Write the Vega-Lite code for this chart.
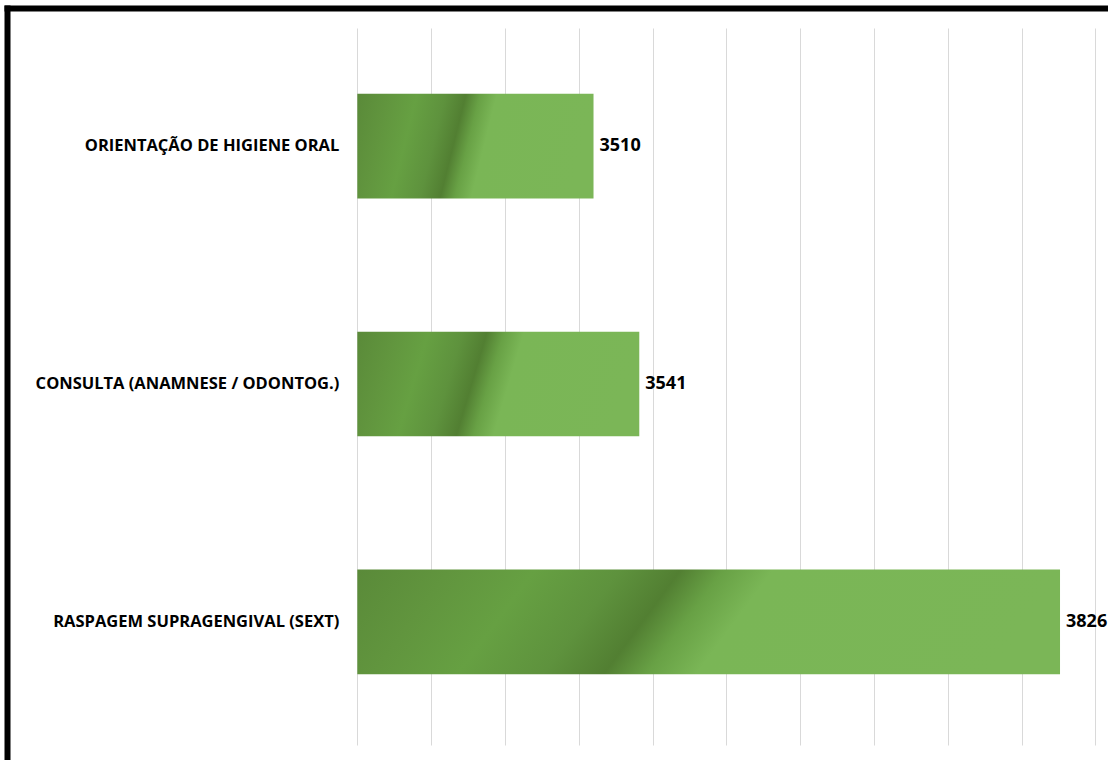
{
  "$schema": "https://vega.github.io/schema/vega-lite/v6.json",
  "width": 1108,
  "height": 760,
  "autosize": {"type": "fit", "contains": "padding"},
  "padding": {"left": 7, "top": 7, "right": 0, "bottom": 0},
  "background": "white",
  "config": {"view": {"stroke": null}, "font": "Open Sans"},
  "data": {
    "values": [
      {"category": "ORIENTAÇÃO DE HIGIENE ORAL", "value": 3510},
      {"category": "CONSULTA (ANAMNESE / ODONTOG.)", "value": 3541},
      {"category": "RASPAGEM SUPRAGENGIVAL (SEXT)", "value": 3826}
    ]
  },
  "encoding": {
    "y": {
      "field": "category",
      "type": "nominal",
      "sort": null,
      "scale": {"paddingInner": 0.56, "paddingOuter": 0.36},
      "axis": {
        "title": null,
        "labels": false,
        "ticks": false,
        "grid": false,
        "domain": true,
        "domainColor": "#000000",
        "domainWidth": 6,
        "domainCap": "square"
      }
    }
  },
  "layer": [
    {
      "mark": {
        "type": "bar",
        "fill": {
          "gradient": "linear",
          "x1": 0, "y1": 0, "x2": 1, "y2": 0.11,
          "stops": [
            {"offset": 0, "color": "#5a8a39"},
            {"offset": 0.13, "color": "#61953e"},
            {"offset": 0.25, "color": "#66a042"},
            {"offset": 0.37, "color": "#5e923d"},
            {"offset": 0.455, "color": "#527f32"},
            {"offset": 0.515, "color": "#68a145"},
            {"offset": 0.585, "color": "#7ab656"},
            {"offset": 1, "color": "#7bb657"}
          ]
        }
      },
      "encoding": {
        "x": {
          "field": "value",
          "type": "quantitative",
          "scale": {"domain": [3112.7, 3858.5], "nice": false, "zero": false},
          "axis": {
            "orient": "top",
            "title": null,
            "values": [3350, 3400, 3450, 3500, 3550, 3600, 3650, 3700, 3750, 3800, 3850],
            "labels": false,
            "grid": false,
            "domain": true,
            "domainColor": "#000000",
            "domainWidth": 6,
            "domainCap": "square",
            "ticks": true,
            "tickSize": -737,
            "tickColor": "#d9d9d9",
            "tickWidth": 1,
            "tickDash": [0, 20, 717, 3000]
          }
        },
        "x2": {"datum": 3350}
      }
    },
    {
      "mark": {"type": "text", "align": "left", "baseline": "middle", "dx": 6, "fontWeight": "bold", "fontSize": 18, "color": "#000000"},
      "encoding": {
        "x": {"field": "value", "type": "quantitative"},
        "text": {"field": "value", "type": "quantitative"}
      }
    },
    {
      "mark": {"type": "text", "align": "right", "baseline": "middle", "dx": -18, "fontWeight": "bold", "fontSize": 16.5, "color": "#000000"},
      "encoding": {
        "x": {"datum": 3350},
        "text": {"field": "category", "type": "nominal"}
      }
    }
  ]
}
